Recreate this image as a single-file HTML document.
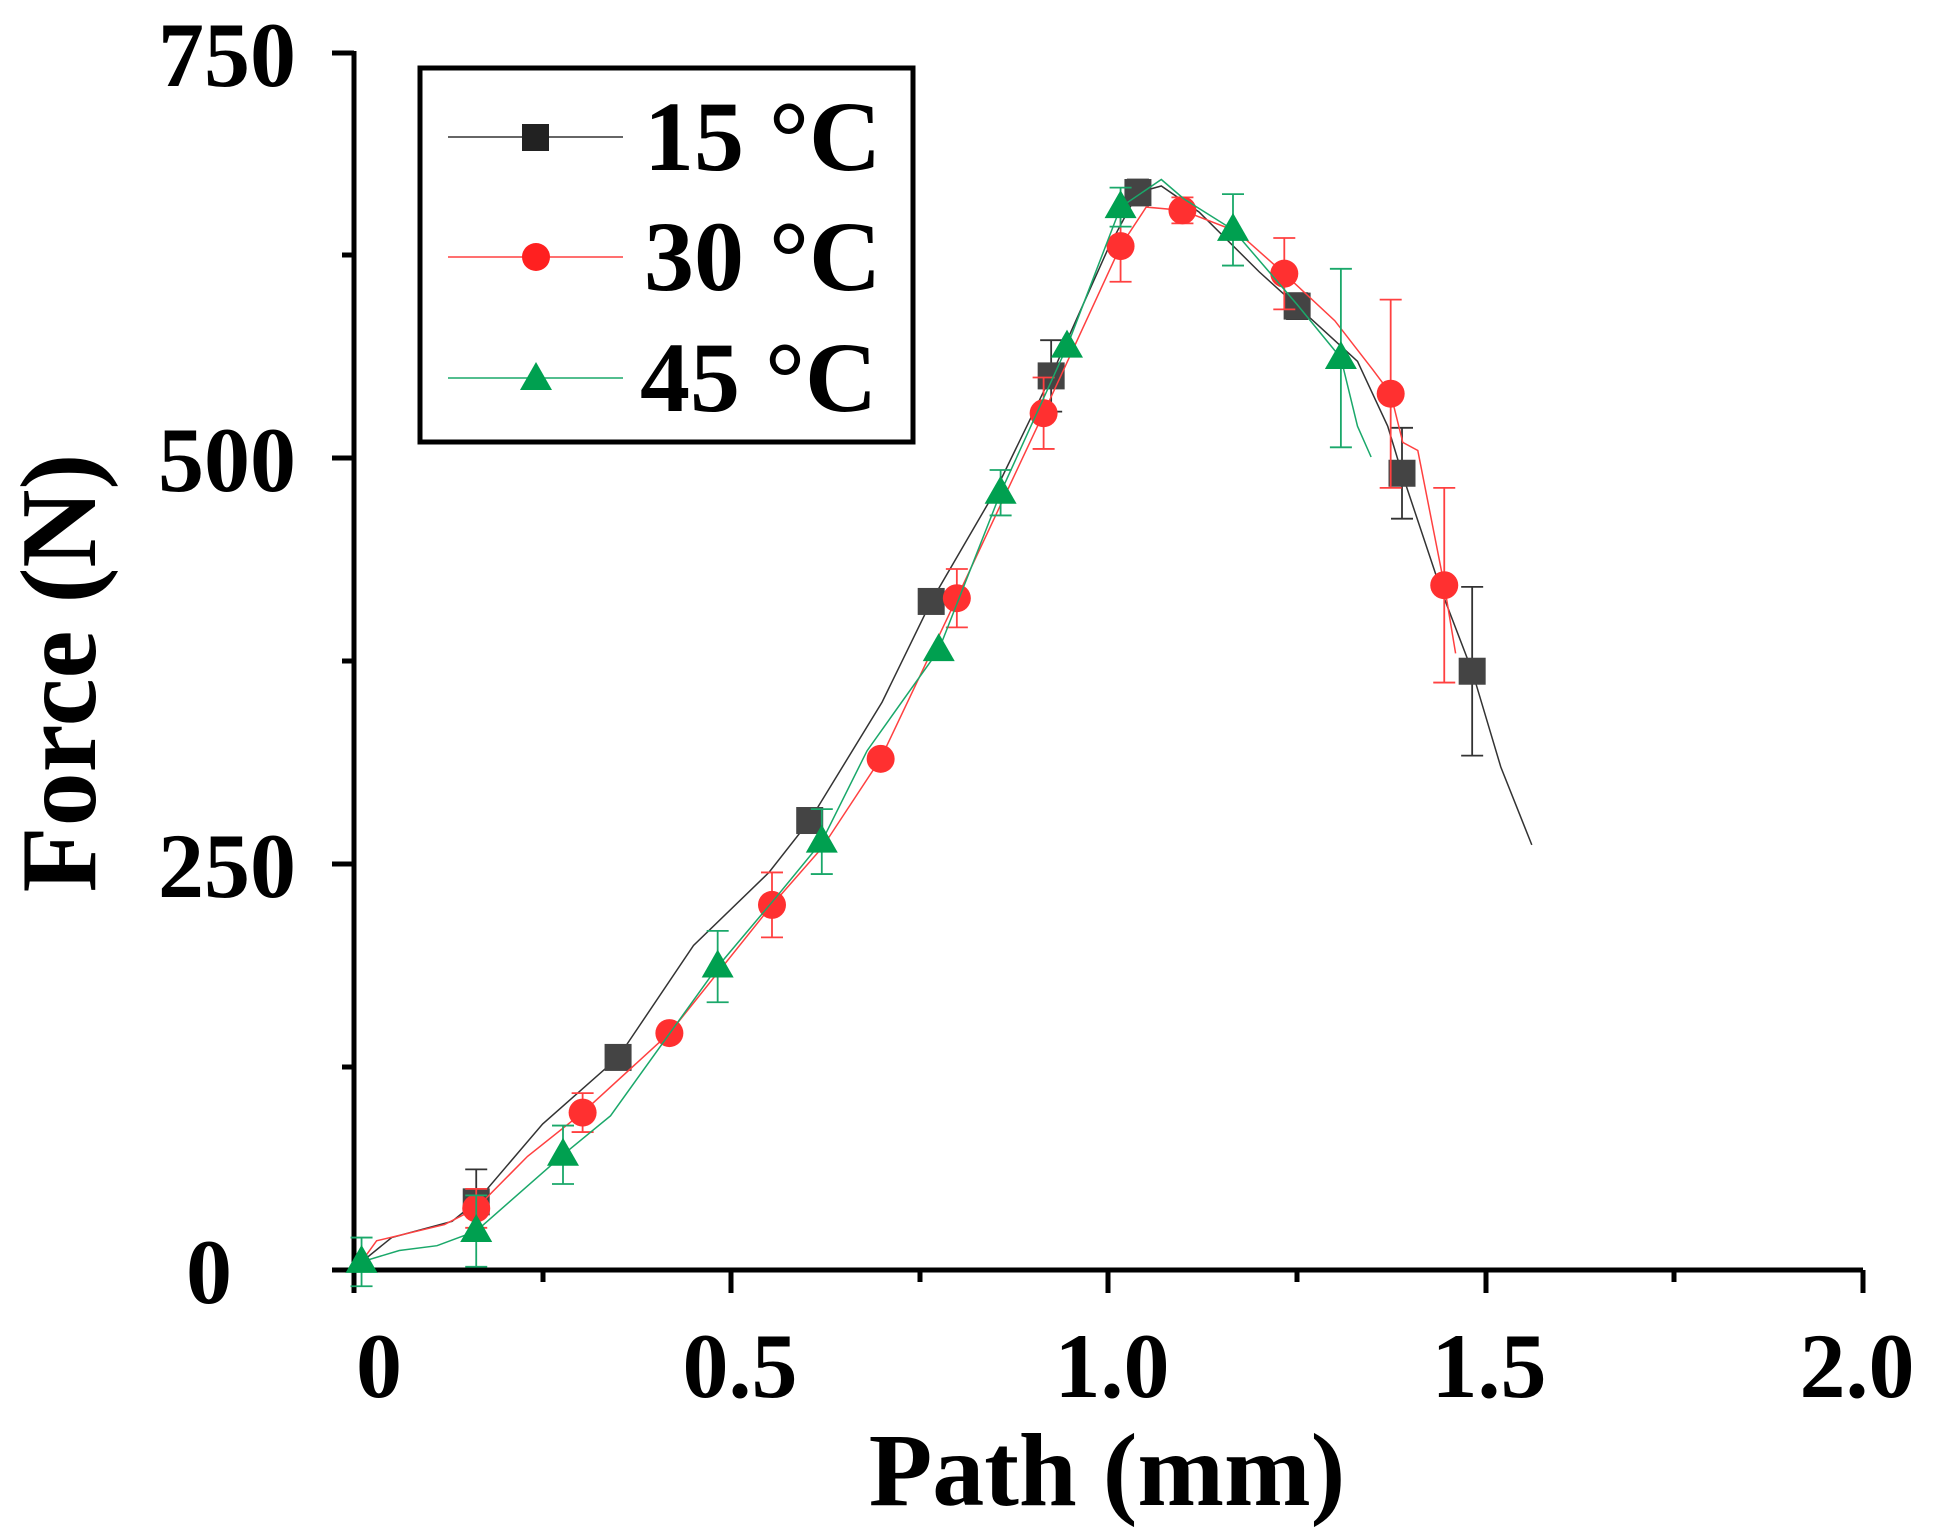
<!DOCTYPE html>
<html><head><meta charset="utf-8"><style>
html,body{margin:0;padding:0;background:#fff}
svg{display:block}
text{font-family:"Liberation Serif",serif;font-weight:bold;fill:#000}
</style></head><body>
<svg id="s" width="1935" height="1535" viewBox="0 0 1935 1535" xmlns="http://www.w3.org/2000/svg">
<g stroke="#000" stroke-width="5" fill="none">
<path d="M354,51 V1270 H1863"/>
<path d="M332,53 H354 M332,458 H354 M332,864 H354 M332,1270 H354"/>
<path d="M342,255 H354 M342,661 H354 M342,1067 H354"/>
<path d="M354,1270 V1293 M731,1270 V1293 M1108,1270 V1293 M1486,1270 V1293 M1863,1270 V1293"/>
<path d="M543,1270 V1282 M920,1270 V1282 M1297,1270 V1282 M1674,1270 V1282"/>
</g>
<g font-size="92" text-anchor="end">
<text x="296" y="86">750</text>
<text x="296" y="491">500</text>
<text x="296" y="897">250</text>
<text x="232" y="1303">0</text>
</g>
<g font-size="92" text-anchor="middle">
<text x="379" y="1397">0</text>
<text x="740" y="1397">0.5</text>
<text x="1112" y="1397">1.0</text>
<text x="1489" y="1397">1.5</text>
<text x="1857" y="1397">2.0</text>
</g>
<text x="1107" y="1505" font-size="104" text-anchor="middle">Path (mm)</text>
<text transform="translate(95,673) rotate(-90)" font-size="108" text-anchor="middle">Force (N)</text>
<g id="data"></g>
<rect x="420" y="68" width="493" height="374" fill="#fff" stroke="#000" stroke-width="5"/>
<g stroke-width="1.5">
<line x1="448" y1="137" x2="623" y2="137" stroke="#333"/>
<line x1="448" y1="257" x2="623" y2="257" stroke="#ff4040"/>
<line x1="448" y1="378" x2="623" y2="378" stroke="#1aa86a"/>
</g>
<rect x="522" y="124" width="27" height="27" fill="#222"/>
<circle cx="536" cy="257" r="14" fill="#ff2020"/>
<polygon points="536,362 552,390 520,390" fill="#00a050"/>
<g font-size="100">
<text x="644" y="170">15 °C</text>
<text x="644" y="290">30 °C</text>
<text x="640" y="411">45 °C</text>
</g>
</svg>
<script>
const X=v=>354+v*754.5, Y=f=>1270-f*1.6227;
const S=[
{c:"#333",m:"#444",t:"sq",
 line:[[0.005,3],[0.05,20],[0.13,30],[0.162,42],[0.25,90],[0.35,131],[0.45,200],[0.55,245],[0.604,277],[0.7,350],[0.765,412],[0.85,480],[0.924,551],[1.0,630],[1.039,664],[1.07,668],[1.12,652],[1.2,615],[1.25,594],[1.33,560],[1.37,520],[1.389,491],[1.44,420],[1.482,369],[1.52,310],[1.561,262]],
 pts:[[0.162,42,20],[0.35,131,0],[0.604,277,0],[0.765,412,0],[0.924,551,22],[1.039,664,8],[1.25,594,8],[1.389,491,28],[1.482,369,52]]},
{c:"#ff4040",m:"#ff3030",t:"ci",
 line:[[0.005,2],[0.03,18],[0.12,28],[0.162,38],[0.23,70],[0.303,97],[0.418,146],[0.554,225],[0.62,260],[0.698,315],[0.799,414],[0.914,528],[1.016,631],[1.05,655],[1.098,653],[1.17,640],[1.233,614],[1.3,585],[1.35,555],[1.374,540],[1.39,510],[1.41,505],[1.445,422],[1.46,380]],
 pts:[[0.162,38,12],[0.303,97,12],[0.418,146,0],[0.554,225,20],[0.698,315,0],[0.799,414,18],[0.914,528,22],[1.016,631,22],[1.098,653,8],[1.233,614,22],[1.374,540,58],[1.445,422,60]]},
{c:"#1aa86a",m:"#00a050",t:"tr",
 line:[[0.0,2],[0.01,5],[0.06,12],[0.11,15],[0.162,24],[0.277,71],[0.34,95],[0.482,187],[0.56,230],[0.62,264],[0.68,320],[0.775,382],[0.857,479],[0.945,569],[1.016,655],[1.07,672],[1.1,660],[1.165,641],[1.25,595],[1.308,562],[1.33,520],[1.348,501]],
 pts:[[0.01,5,15],[0.162,24,22],[0.277,71,18],[0.482,187,22],[0.62,264,20],[0.775,382,0],[0.857,479,14],[0.945,569,0],[1.016,655,12],[1.165,641,22],[1.308,562,55]]}
];
let h="";
for(const s of S){
 h+=`<polyline fill="none" stroke="${s.c}" stroke-width="1.5" points="${s.line.map(p=>X(p[0]).toFixed(1)+","+Y(p[1]).toFixed(1)).join(" ")}"/>`;
 for(const [v,f,e] of s.pts){
  const x=X(v),y=Y(f);
  if(e){const a=Y(f+e),b=Y(f-e);h+=`<path d="M${x},${a}V${b}M${x-11},${a}H${x+11}M${x-11},${b}H${x+11}" stroke="${s.c}" stroke-width="1.8" fill="none"/>`;}
  if(s.t=="sq")h+=`<rect x="${x-13.5}" y="${y-13.5}" width="27" height="27" fill="${s.m}"/>`;
  else if(s.t=="ci")h+=`<circle cx="${x}" cy="${y}" r="14" fill="${s.m}"/>`;
  else h+=`<polygon points="${x},${y-17} ${x+16},${y+11} ${x-16},${y+11}" fill="${s.m}"/>`;
 }
}
document.getElementById("data").innerHTML=h;
</script>
</body></html>
